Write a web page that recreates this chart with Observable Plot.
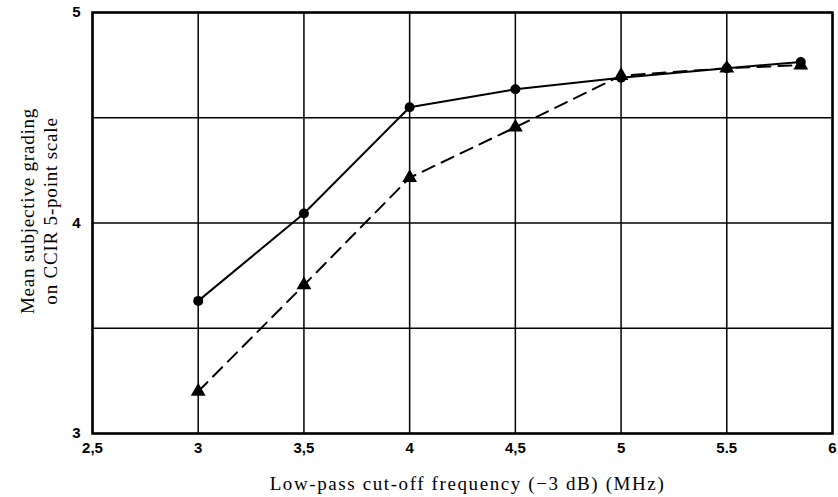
<!DOCTYPE html>
<html>
<head>
<meta charset="utf-8">
<script src="https://cdn.jsdelivr.net/npm/d3@7"></script>
<script src="https://cdn.jsdelivr.net/npm/@observablehq/plot@0.6"></script>
<style>
  html, body { margin: 0; padding: 0; background: #fff; }
  svg { display: block; }
</style>
</head>
<body>
<div id="chart"></div>
<script>
const freqs = [3, 3.5, 4, 4.5, 5, 5.5, 5.85];
const circleSeries = [3.63, 4.045, 4.55, 4.635, 4.69, 4.735, 4.765];
const triangleSeries = [3.2, 3.705, 4.215, 4.455, 4.70, 4.735, 4.75];
const xTicks = [2.5, 3, 3.5, 4, 4.5, 5, 5.5, 6];
const xTickLabels = ["2,5", "3", "3,5", "4", "4,5", "5", "5.5", "6"];
const yGrid = [3, 3.5, 4, 4.5, 5];
const yTicks = [3, 4, 5];
const yTickLabels = ["3", "4", "5"];
const xTitle = "Low-pass cut-off frequency (\u22123 dB) (MHz)";
const yTitle = "Mean subjective grading\non CCIR 5-point scale";

const circles = freqs.map((f, i) => ({x: f, y: circleSeries[i]}));
const triangles = freqs.map((f, i) => ({x: f, y: triangleSeries[i]}));

const tickFont = "Liberation Sans Narrow, Liberation Sans, sans-serif";
const titleFont = "Liberation Serif, Times New Roman, serif";

const chart = Plot.plot({
  width: 838,
  height: 497,
  marginLeft: 92,
  marginRight: 6,
  marginTop: 12,
  marginBottom: 64,
  style: {background: "#fff", color: "#000"},
  x: {domain: [2.5, 6]},
  y: {domain: [3, 5]},
  marks: [
    Plot.gridX(xTicks, {stroke: "#000", strokeOpacity: 1, strokeWidth: 1.5}),
    Plot.gridY(yGrid, {stroke: "#000", strokeOpacity: 1, strokeWidth: 1.5}),
    Plot.frame({stroke: "#000", strokeWidth: 2.5}),
    Plot.axisX({
      ticks: xTicks, tickSize: 0, tickPadding: 9,
      tickFormat: d => xTickLabels[xTicks.indexOf(d)],
      fontSize: 15, fontWeight: "bold", fontFamily: tickFont,
      label: null
    }),
    Plot.axisY({
      ticks: yTicks, tickSize: 0, tickPadding: 12,
      tickFormat: d => yTickLabels[yTicks.indexOf(d)],
      fontSize: 15, fontWeight: "bold", fontFamily: tickFont,
      label: null
    }),
    Plot.text([xTitle], {
      frameAnchor: "bottom", dy: 50, dx: 5, text: d => d,
      fontFamily: titleFont, fontSize: 19, lineAnchor: "middle"
    }),
    Plot.text([yTitle], {
      frameAnchor: "left", dx: -54, dy: -12, rotate: -90, text: d => d,
      textAnchor: "middle",
      fontFamily: titleFont, fontSize: 19, lineHeight: 1.2, lineAnchor: "middle"
    }),
    Plot.line(circles, {x: "x", y: "y", stroke: "#000", strokeWidth: 2}),
    Plot.line(triangles, {x: "x", y: "y", stroke: "#000", strokeWidth: 2, strokeDasharray: "13,8"}),
    Plot.dot(circles, {x: "x", y: "y", r: 5, fill: "#000", stroke: "none"}),
    Plot.dot(triangles, {x: "x", y: "y", r: 5.5, symbol: "triangle", fill: "#000", stroke: "none"})
  ]
});

chart.querySelectorAll("text").forEach(t => {
  const s = t.textContent;
  if (s.startsWith("Low-pass")) t.setAttribute("letter-spacing", "1.6");
  else if (s.startsWith("Mean")) t.setAttribute("letter-spacing", "0.8");
});

document.getElementById("chart").appendChild(chart);
</script>
</body>
</html>
